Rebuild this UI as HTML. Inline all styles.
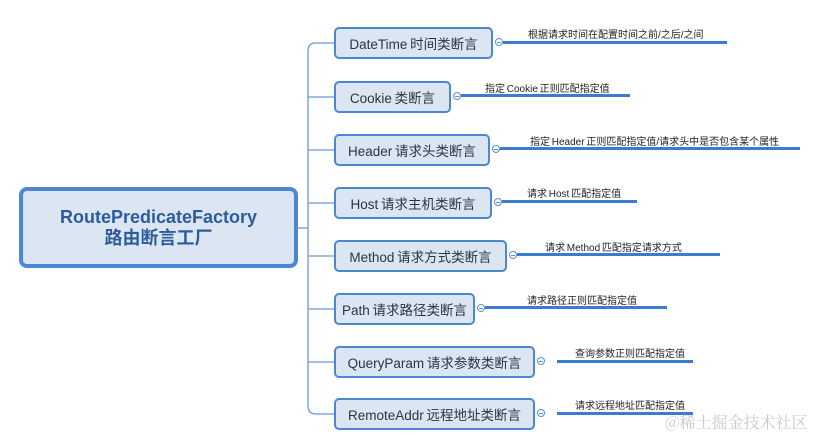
<!DOCTYPE html>
<html><head><meta charset="utf-8"><style>
body{margin:0;width:834px;height:438px;background:#fff;overflow:hidden;position:relative;font-family:"Liberation Sans","Noto Sans CJK SC",sans-serif}
.b{position:absolute;left:334px;height:32px;background:#dce6f3;border:2px solid #4b87d2;border-radius:5px;box-sizing:border-box;font-size:13.5px;color:#2b3440;display:flex;align-items:center;justify-content:center;word-spacing:-1px}
.t{position:absolute;font-size:10px;color:#222;word-spacing:-1px}
.l{position:absolute;height:3px;background:#3b7bd0}
.c{position:absolute;width:8px;height:8px;border:1px solid #5a8fcf;border-radius:50%;background:#fff;box-sizing:border-box}
.c::after{content:"";position:absolute;left:1px;right:1px;top:3px;height:1px;background:#5a8fcf}
</style></head><body>
<div style="position:absolute;left:19px;top:187px;width:279px;height:81px;border:4px solid #4b87d2;border-radius:8px;background:#dce6f3;box-sizing:border-box;display:flex;flex-direction:column;align-items:center;justify-content:center;color:#2c5c9c;font-weight:bold;font-size:18px;line-height:21px">
<div>RoutePredicateFactory</div><div>路由断言工厂</div></div>
<svg width="834" height="438" style="position:absolute;left:0;top:0">
<g fill="none" stroke="#6a9ad6" stroke-width="1.3">
<path d="M298 228 H308"/>
<path d="M334 43 H316 Q308 43 308 51 V406 Q308 414 316 414 H334"/>
<path d="M308 97 H334 M308 150 H334 M308 203 H334 M308 256 H334 M308 309 H334 M308 362 H334"/>
</g></svg>
<div class="b" style="top:27px;width:159px">DateTime 时间类断言</div>
<div class="b" style="top:81px;width:117px">Cookie 类断言</div>
<div class="b" style="top:134px;width:156px">Header 请求头类断言</div>
<div class="b" style="top:187px;width:158px">Host 请求主机类断言</div>
<div class="b" style="top:240px;width:173px">Method 请求方式类断言</div>
<div class="b" style="top:293px;width:141px">Path 请求路径类断言</div>
<div class="b" style="top:346px;width:201px">QueryParam 请求参数类断言</div>
<div class="b" style="top:398px;width:201px">RemoteAddr 远程地址类断言</div>

<div class="c" style="left:495px;top:38px"></div><div class="l" style="left:503px;top:41px;width:224px"></div><div class="t" style="left:528px;top:26px">根据请求时间在配置时间之前/之后/之间</div>
<div class="c" style="left:453px;top:92px"></div><div class="l" style="left:461px;top:94px;width:169px"></div><div class="t" style="left:485px;top:80px">指定 Cookie 正则匹配指定值</div>
<div class="c" style="left:492px;top:145px"></div><div class="l" style="left:500px;top:147px;width:300px"></div><div class="t" style="left:530px;top:133px">指定 Header 正则匹配指定值/请求头中是否包含某个属性</div>
<div class="c" style="left:494px;top:198px"></div><div class="l" style="left:502px;top:200px;width:135px"></div><div class="t" style="left:527px;top:185px">请求 Host 匹配指定值</div>
<div class="c" style="left:509px;top:251px"></div><div class="l" style="left:517px;top:253px;width:203px"></div><div class="t" style="left:545px;top:239px">请求 Method 匹配指定请求方式</div>
<div class="c" style="left:477px;top:304px"></div><div class="l" style="left:485px;top:306px;width:182px"></div><div class="t" style="left:527px;top:292px">请求路径正则匹配指定值</div>
<div class="c" style="left:537px;top:357px"></div><div class="l" style="left:557px;top:360px;width:136px"></div><div class="t" style="left:575px;top:345px">查询参数正则匹配指定值</div>
<div class="c" style="left:537px;top:409px"></div><div class="l" style="left:557px;top:412px;width:136px"></div><div class="t" style="left:575px;top:397px">请求远程地址匹配指定值</div>
<div style="position:absolute;left:665px;top:410px;font-size:16px;color:#c8c8c8;font-family:'Noto Serif CJK SC',serif">@稀土掘金技术社区</div>
</body></html>
